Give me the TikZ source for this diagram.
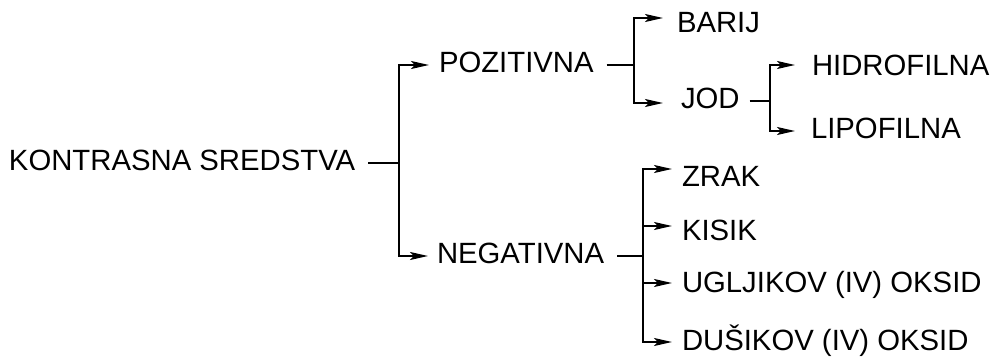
\documentclass[tikz,border=0pt]{standalone}
\usepackage{fontspec}
\setmainfont{Liberation Sans}
\usetikzlibrary{arrows.meta,positioning}
\def\stemgap{6pt}
\def\termsize{14.65}

\begin{document}
\begin{tikzpicture}[x=0.5pt,y=-0.5pt,line width=1pt, myarrow/.style={-{Stealth[length=9pt,width=4pt,inset=2pt]}}]
    \tikzstyle{term}=[anchor=west,inner sep=0pt,text height=0.716em,text depth=0pt,font=\fontsize{\termsize}{17}\selectfont]
    \tikzstyle{stem}=[shorten <=\stemgap]
    \useasboundingbox (0,0) rectangle (993,358);

    % Draw the nodes
    \node[term] (root) at (8,163) {KONTRASNA SREDSTVA};
    \node[term] (pos) at (438,65) {POZITIVNA};
    \node[term] (neg) at (436,256) {NEGATIVNA};

    \node[term] (pos-1) at (676,25) {BARIJ};
    \node[term] (pos-2) at (680,101) {JOD};

    \node[term] (jod-1) at (811,68) {HIDROFILNA};
    \node[term] (jod-2) at (810,131) {LIPOFILNA};

    \foreach \y/\name [count=\i] in {179/ZRAK,233/KISIK,285/UGLJIKOV (IV) OKSID,343/DUŠIKOV (IV) OKSID}
        \node[term] (neg-\i) at (681,\y) {\name};

    % Junctions
    \coordinate (j-root) at (399,163);
    \coordinate (j-pos) at (634,65);
    \coordinate (j-jod) at (770,101);
    \coordinate (j-neg) at (643,256);

    % Connect every node
    \draw[stem] (root.east) -- (j-root);
    \draw[myarrow,shorten >=4.5pt] (j-root) |- (pos.west);
    \draw[myarrow,shorten >=4pt] (j-root) |- (neg.west);

    \draw[stem] (pos.east) -- (j-pos);
    \draw[myarrow,shorten >=6.5pt] (j-pos) |- ([yshift=3.5pt]pos-1.west);
    \draw[myarrow,shorten >=8.5pt] (j-pos) |- ([yshift=-1pt]pos-2.west);

    \draw[stem,shorten <=4.5pt] (pos-2.east) -- (j-jod);
    \draw[myarrow,shorten >=8pt] (j-jod) |- ([yshift=1.5pt]jod-1.west);
    \draw[myarrow,shorten >=7.5pt] (j-jod) |- (jod-2.west);

    \draw[stem] (neg.east) -- (j-neg);
    \foreach \dest/\dy in {1/5pt,2/3.5pt,3/1pt,4/0.5pt}
        \draw[myarrow,shorten >=4.5pt] (j-neg) |- ([yshift=\dy]neg-\dest.west);
\end{tikzpicture}
\end{document}
